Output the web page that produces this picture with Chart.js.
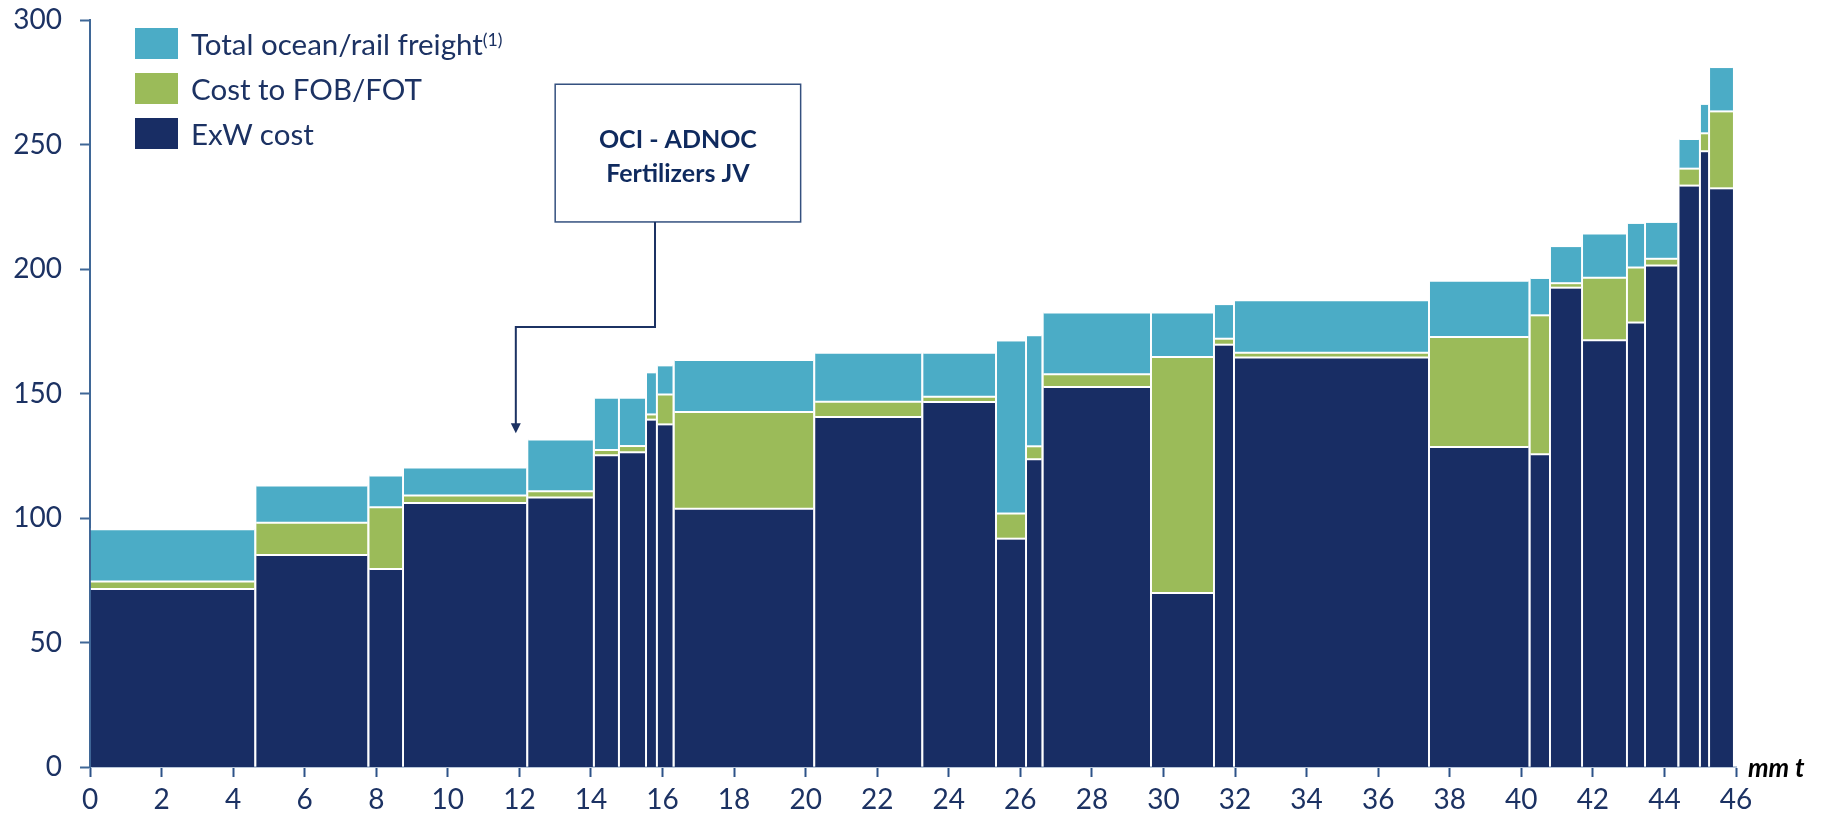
<!DOCTYPE html>
<html>
<head>
<meta charset="utf-8">
<script src="https://cdn.jsdelivr.net/npm/chart.js@4.4.1/dist/chart.umd.min.js"></script>
<style>
  html, body { margin: 0; padding: 0; background: #fff; }
  #wrap { position: relative; width: 1825px; height: 823px; }
  #legend { position: absolute; left: 135px; top: 28px; font-family: Lato, sans-serif; font-size: 29.5px; color: #1c3263; }
  .item { display: flex; align-items: center; height: 31px; margin-bottom: 14px; white-space: nowrap; }
  .swatch { width: 43px; height: 31px; margin-right: 13px; flex: none; }
  sup { font-size: 60%; position: relative; top: -4px; }
</style>
</head>
<body>
<div id="wrap">
  <canvas id="curve"></canvas>
  <div id="legend">
    <div class="item"><span class="swatch" style="background:#4bacc6"></span>Total ocean/rail freight<sup>(1)</sup></div>
    <div class="item"><span class="swatch" style="background:#9bbb59"></span>Cost to FOB/FOT</div>
    <div class="item"><span class="swatch" style="background:#182d64"></span>ExW cost</div>
  </div>
</div>
<script>
// capacity of each plant block, mm t (block widths on the x axis)
const capacity = [4.62, 3.16, 0.97, 3.47, 1.86, 0.70, 0.76, 0.30, 0.47, 3.93, 3.02, 2.06, 0.84, 0.46,
  3.03, 1.76, 0.56, 5.45, 2.81, 0.57, 0.90, 1.25, 0.51, 0.93, 0.60, 0.26, 0.69];
// cost layers, stacked bottom to top
const exwCost = [71.5, 85.1, 79.5, 106.0, 108.2, 125.2, 126.4, 139.5, 137.6, 103.7, 140.6, 146.6, 91.7, 123.6,
  152.6, 69.9, 169.6, 164.5, 128.5, 125.6, 192.5, 171.4, 178.5, 201.4, 233.5, 247.3, 232.4];
const fobCost = [3.0, 13.0, 24.8, 3.0, 2.5, 2.1, 2.5, 2.1, 12.0, 38.9, 6.1, 2.1, 10.1, 5.2,
  5.1, 94.8, 2.4, 1.9, 44.2, 55.8, 1.8, 25.1, 22.1, 2.7, 6.8, 7.2, 30.9];
const freightCost = [21.0, 15.0, 12.8, 11.3, 20.8, 21.0, 19.4, 16.9, 11.7, 20.9, 19.7, 17.7, 69.5, 44.6,
  24.8, 17.8, 13.9, 21.0, 22.6, 15.0, 14.9, 17.8, 17.9, 14.8, 11.9, 11.8, 17.8];
const xTicks = { min: 0, max: 46, step: 2 };
const yTicks = { min: 0, max: 300, step: 50 };
const noteLines = ["OCI - ADNOC", "Fertilizers JV"];
const unitLabel = "mm t";

const COLORS = { exw: "#182d64", fob: "#9bbb59", freight: "#4bacc6" };
const TEXT = "#1c3263";
const GAP = 0.05; // white seam between blocks, in mm t

function segment(x0, x1, y, color, fill) {
  return {
    data: [{ x: x0, y }, { x: x1, y }],
    backgroundColor: color,
    borderColor: "#ffffff",
    borderWidth: 2,
    fill,
    pointRadius: 0,
    pointHoverRadius: 0,
    tension: 0,
  };
}

const datasets = [];
let start = 0;
capacity.forEach((w, i) => {
  const x0 = start + GAP / 2;
  const x1 = start + w - GAP / 2;
  start += w;
  const exw = exwCost[i];
  const fob = exw + fobCost[i];
  const total = fob + freightCost[i];
  datasets.push(segment(x0, x1, exw, COLORS.exw, "origin"));
  datasets.push(segment(x0, x1, fob, COLORS.fob, "-1"));
  datasets.push(segment(x0, x1, total, COLORS.freight, "-1"));
});

// callout box + arrow, placed in data space
const note = { left: 13.0, right: 19.86, top: 274.2, bottom: 218.9, stem: 15.79, elbow: 176.7, tipX: 11.9, tipY: 134 };

const notePlugin = {
  id: "noteBox",
  afterDraw(chart) {
    const { ctx, scales: { x, y } } = chart;
    const l = x.getPixelForValue(note.left), r = x.getPixelForValue(note.right);
    const t = y.getPixelForValue(note.top), b = y.getPixelForValue(note.bottom);
    ctx.save();
    ctx.strokeStyle = "#34507f";
    ctx.lineWidth = 1.5;
    ctx.strokeRect(l, t, r - l, b - t);

    ctx.fillStyle = "#0f2a5e";
    ctx.font = "bold 25px Lato";
    ctx.textAlign = "center";
    ctx.textBaseline = "middle";
    const cx = (l + r) / 2, cy = (t + b) / 2 + 3;
    ctx.fillText(noteLines[0], cx, cy - 16);
    ctx.fillText(noteLines[1], cx, cy + 18);

    const sx = x.getPixelForValue(note.stem);
    const ey = y.getPixelForValue(note.elbow);
    const tx = x.getPixelForValue(note.tipX);
    const ty = y.getPixelForValue(note.tipY);
    ctx.strokeStyle = "#1c3263";
    ctx.lineWidth = 2;
    ctx.beginPath();
    ctx.moveTo(sx, b);
    ctx.lineTo(sx, ey);
    ctx.lineTo(tx, ey);
    ctx.lineTo(tx, ty - 9);
    ctx.stroke();
    ctx.fillStyle = "#1c3263";
    ctx.beginPath();
    ctx.moveTo(tx - 5, ty - 10);
    ctx.lineTo(tx + 5, ty - 10);
    ctx.lineTo(tx, ty);
    ctx.closePath();
    ctx.fill();

    // unit label at the end of the x axis
    ctx.fillStyle = "#000";
    ctx.font = "italic bold 26px Lato";
    ctx.textAlign = "left";
    ctx.fillText(unitLabel, x.right + 12, y.getPixelForValue(0) + 2);
    ctx.restore();
  },
};

new Chart(document.getElementById("curve"), {
  type: "line",
  data: { datasets },
  plugins: [notePlugin],
  options: {
    responsive: true,
    maintainAspectRatio: false,
    animation: false,
    events: [],
    layout: { padding: { top: 20, right: 89, left: 0, bottom: 0 } },
    plugins: { legend: { display: false }, tooltip: { enabled: false } },
    scales: {
      x: {
        type: "linear",
        min: xTicks.min,
        max: xTicks.max,
        afterFit: (s) => { s.height = 56; },
        ticks: { stepSize: xTicks.step, color: TEXT, font: { family: "Lato", size: 28 }, padding: 6, maxRotation: 0, autoSkip: false },
        grid: { drawOnChartArea: false, drawTicks: true, tickLength: 10, tickColor: "#2d5288", tickWidth: 2 },
        border: { display: true, color: "#b7c5d8", width: 2 },
      },
      y: {
        min: yTicks.min,
        max: yTicks.max,
        afterFit: (s) => { s.width = 90; s.paddingTop = 0; s.paddingBottom = 0; },
        ticks: { stepSize: yTicks.step, color: TEXT, font: { family: "Lato", size: 28 }, padding: 18 },
        grid: { drawOnChartArea: false, drawTicks: true, tickLength: 10, tickColor: "#3f6797", tickWidth: 2 },
        border: { display: true, color: "#3f6797", width: 2 },
      },
    },
  },
});
</script>
</body>
</html>
